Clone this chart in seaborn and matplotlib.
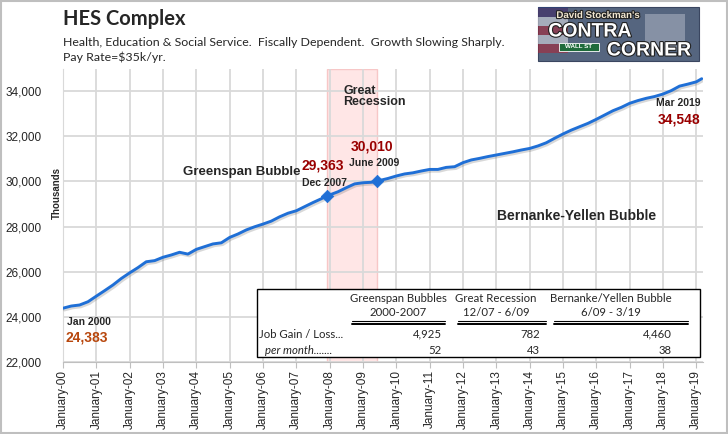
import pandas as pd
import numpy as np
import matplotlib
matplotlib.use('Agg')
import matplotlib.pyplot as plt
import matplotlib.patheffects as pe
from matplotlib.patches import Rectangle
import seaborn as sns

# quarterly readings (Jan, Apr, Jul, Oct), thousands of jobs
quarter_start = '2000-01-01'
hes_jobs = [24383, 24480, 24525, 24670,
            24920, 25160, 25410, 25700,
            25950, 26180, 26440, 26490,
            26640, 26740, 26860, 26780,
            26990, 27110, 27230, 27280,
            27520, 27670, 27850, 27990,
            28110, 28240, 28430, 28590,
            28700, 28880, 29060, 29230,
            29400, 29540, 29720, 29890,
            29940, 29960, 30040, 30130,
            30240, 30330, 30380, 30460,
            30530, 30530, 30620, 30650,
            30830, 30950, 31020, 31100,
            31170, 31240, 31310, 31390,
            31460, 31570, 31710, 31910,
            32100, 32270, 32420, 32570,
            32750, 32940, 33130, 33280,
            33460, 33580, 33680, 33760,
            33870, 34020, 34220, 34310,
            34410]

key_dates = ['2000-01-01', '2007-12-01', '2009-06-01', '2019-03-01']
key_values = [24383, 29363, 30010, 34548]
key_names = ['Jan 2000', 'Dec 2007', 'June 2009', 'Mar 2019']

recession = ['2007-12-01', '2009-06-01']

table_cols = ['Greenspan Bubbles', 'Great Recession', 'Bernanke/Yellen Bubble']
table_periods = ['2000-2007', '12/07 - 6/09', '6/09 - 3/19']
job_gain = [4925, 782, 4460]
per_month = [52, 43, 38]

W, H = 728, 434


def px(x, y):
    return x / W, 1 - y / H


q_dates = pd.date_range(quarter_start, periods=len(hes_jobs), freq='QS')
df = pd.DataFrame({'date': q_dates, 'jobs': hes_jobs})
keys = pd.DataFrame({'date': pd.to_datetime(key_dates), 'jobs': key_values})
line_df = pd.concat([df, keys]).drop_duplicates('date').sort_values('date')

sns.set_style('white')
plt.rcParams['font.family'] = ['Liberation Sans', 'DejaVu Sans']

fig = plt.figure(figsize=(W / 100, H / 100), dpi=100)
ax = fig.add_axes([63 / W, 1 - 362 / H, (703 - 63) / W, (362 - 68.5) / H])

ax.axvspan(pd.Timestamp(recession[0]), pd.Timestamp(recession[1]),
           facecolor='#ffdcdc', edgecolor='#f5b5b5', lw=1, alpha=0.7, zorder=0.5)

sns.lineplot(data=line_df, x='date', y='jobs', ax=ax, color='#1f6fd6', lw=2.1,
             zorder=3,
             path_effects=[pe.SimpleLineShadow(offset=(1.0, -1.3), shadow_color='#666666', alpha=0.25),
                           pe.Normal()])
mid = keys.iloc[1:3]
sns.scatterplot(data=mid, x='date', y='jobs', ax=ax, marker='D', s=40,
                color='#1f6fd6', edgecolor='#1f6fd6', zorder=4)

ax.set_xlim(pd.Timestamp('2000-01-01'), pd.Timestamp('2019-03-15'))
ax.set_ylim(22000, 35000)
ticks = pd.date_range('2000-01-01', '2019-01-01', freq='YS')
ax.set_xticks(ticks)
ax.set_xticklabels([t.strftime('%B-%y') for t in ticks], rotation=90, fontsize=8.5)
ax.set_yticks(range(22000, 34001, 2000))
ax.set_yticklabels([f'{v:,}' for v in range(22000, 34001, 2000)], fontsize=8.5)
ax.grid(True, color='#d9d9d9', lw=1.3, zorder=0)
ax.set_axisbelow(True)
for s in ['top', 'right']:
    ax.spines[s].set_visible(False)
ax.spines['left'].set_color('#d9d9d9')
ax.spines['bottom'].set_color('#bfbfbf')
ax.tick_params(axis='x', bottom=True, length=4, color='#bfbfbf', pad=2)
ax.tick_params(axis='y', left=False, pad=12)
ax.set_xlabel('')
ax.set_ylabel('')

fig.text(*px(57, 193), 'Thousands', rotation=90, fontsize=7, fontweight='bold',
         ha='center', va='center')

# titles
fig.text(*px(63, 19), 'HES Complex', fontsize=14.5, fontweight='bold',
         family=['Lato', 'DejaVu Sans'], va='center')
fig.text(*px(63, 42), 'Health, Education & Social Service.  Fiscally Dependent.  Growth Slowing Sharply.',
         fontsize=8.9, family=['Lato', 'DejaVu Sans'], va='center')
fig.text(*px(63, 57), 'Pay Rate=$35k/yr.', fontsize=8.9, family=['Lato', 'DejaVu Sans'], va='center')

# annotations
dark_red = '#990000'
fig.text(*px(343, 91), 'Great', fontsize=9, fontweight='bold', va='center')
fig.text(*px(343, 102), 'Recession', fontsize=9, fontweight='bold', va='center')
fig.text(*px(183, 172), 'Greenspan Bubble', fontsize=9.5, fontweight='bold', va='center')
fig.text(*px(497, 216), 'Bernanke-Yellen Bubble', fontsize=10, fontweight='bold', va='center')

fig.text(*px(67, 322), key_names[0], fontsize=7.5, fontweight='bold', va='center')
fig.text(*px(66, 337), f'{key_values[0]:,}', fontsize=10, fontweight='bold', color='#b8470d', va='center')
fig.text(*px(302, 183), key_names[1], fontsize=7.5, fontweight='bold', va='center')
fig.text(*px(302, 166), f'{key_values[1]:,}', fontsize=10, fontweight='bold', color=dark_red, va='center')
fig.text(*px(349, 163), key_names[2], fontsize=7.5, fontweight='bold', va='center')
fig.text(*px(351, 147), f'{key_values[2]:,}', fontsize=10, fontweight='bold', color=dark_red, va='center')
fig.text(*px(700, 103), key_names[3], fontsize=7.5, fontweight='bold', va='center', ha='right')
fig.text(*px(700, 119), f'{key_values[3]:,}', fontsize=10, fontweight='bold', color=dark_red,
         va='center', ha='right')

# table
tab_font = ['Lato', 'DejaVu Sans']
x0, y0 = px(257, 357)
x1, y1 = px(700, 289)
fig.patches.append(Rectangle((x0, y0), x1 - x0, y1 - y0, transform=fig.transFigure,
                             facecolor='white', edgecolor='black', lw=1, zorder=5))
centers = [398, 496, 611]
rights = [442, 540, 672]
spans = [(352, 445), (458, 546), (554, 688)]
for i in range(3):
    fig.text(*px(centers[i], 298), table_cols[i], fontsize=8.2, ha='center', va='center',
             family=tab_font, zorder=6)
    fig.text(*px(centers[i], 312), table_periods[i], fontsize=8.2, ha='center', va='center',
             family=tab_font, zorder=6)
    for yy, lw in [(321, 0.8), (324, 1.4)]:
        fig.add_artist(plt.Line2D([spans[i][0] / W, spans[i][1] / W], [1 - yy / H, 1 - yy / H],
                                  color='black', lw=lw, transform=fig.transFigure, zorder=6))
    fig.text(*px(rights[i], 334), f'{job_gain[i]:,}', fontsize=8.2, ha='right', va='center',
             family=tab_font, zorder=6)
    fig.text(*px(rights[i], 350), f'{per_month[i]:,}', fontsize=8.2, ha='right', va='center',
             family=tab_font, zorder=6)
fig.text(*px(259, 334), 'Job Gain / Loss...', fontsize=8.2, va='center', family=tab_font, zorder=6)
fig.text(*px(265, 350), 'per month.......', fontsize=8.2, va='center', style='italic',
         family=tab_font, zorder=6)

# logo box
lx0, ly0 = px(538, 61)
lx1, ly1 = px(699, 7)
fig.patches.append(Rectangle((lx0, ly0), lx1 - lx0, ly1 - ly0, transform=fig.transFigure,
                             facecolor='#55657f', edgecolor='#3a4660', lw=0.8, zorder=5))
for k, c in enumerate(['#b22234', '#e8e8ee', '#b22234', '#e8e8ee', '#b22234']):
    sx0, sy0 = px(538, 17 + k * 9)
    fig.patches.append(Rectangle((sx0, sy0), 30 / W, 9 / H, transform=fig.transFigure,
                                 facecolor=c, edgecolor='none', alpha=0.55, zorder=5))
bx0, by0 = px(538, 17)
fig.patches.append(Rectangle((bx0, by0), 30 / W, 10 / H, transform=fig.transFigure,
                             facecolor='#2d3f7a', edgecolor='none', alpha=0.7, zorder=5))
cx0, cy0 = px(645, 50)
fig.patches.append(Rectangle((cx0, cy0), 40 / W, 36 / H, transform=fig.transFigure,
                             facecolor='#a8b0c0', edgecolor='none', alpha=0.6, zorder=5))
outline = [pe.withStroke(linewidth=1.6, foreground='#222222')]
fig.text(*px(598, 15), "David Stockman's", fontsize=7, fontweight='bold', color='#f0e6d0',
         ha='center', va='center', path_effects=outline, zorder=7)
fig.text(*px(590, 32), 'CONTRA', fontsize=14, fontweight='bold', color='white',
         ha='center', va='center', path_effects=outline, zorder=7)
fig.text(*px(649, 51), 'CORNER', fontsize=14, fontweight='bold', color='white',
         ha='center', va='center', path_effects=outline, zorder=7)
gx0, gy0 = px(559, 51)
fig.patches.append(Rectangle((gx0, gy0), 40 / W, 8 / H, transform=fig.transFigure,
                             facecolor='#1e6b3a', edgecolor='white', lw=0.6, zorder=6))
fig.text(*px(579, 47), 'WALL ST', fontsize=4.5, fontweight='bold', color='white',
         ha='center', va='center', zorder=7)

# outer frame
fig.patches.append(Rectangle((0.001, 0.002), 0.997, 0.996, transform=fig.transFigure,
                             facecolor='none', edgecolor='#bfbfbf', lw=1.5, zorder=10))

fig.savefig('out.png', dpi=100)
